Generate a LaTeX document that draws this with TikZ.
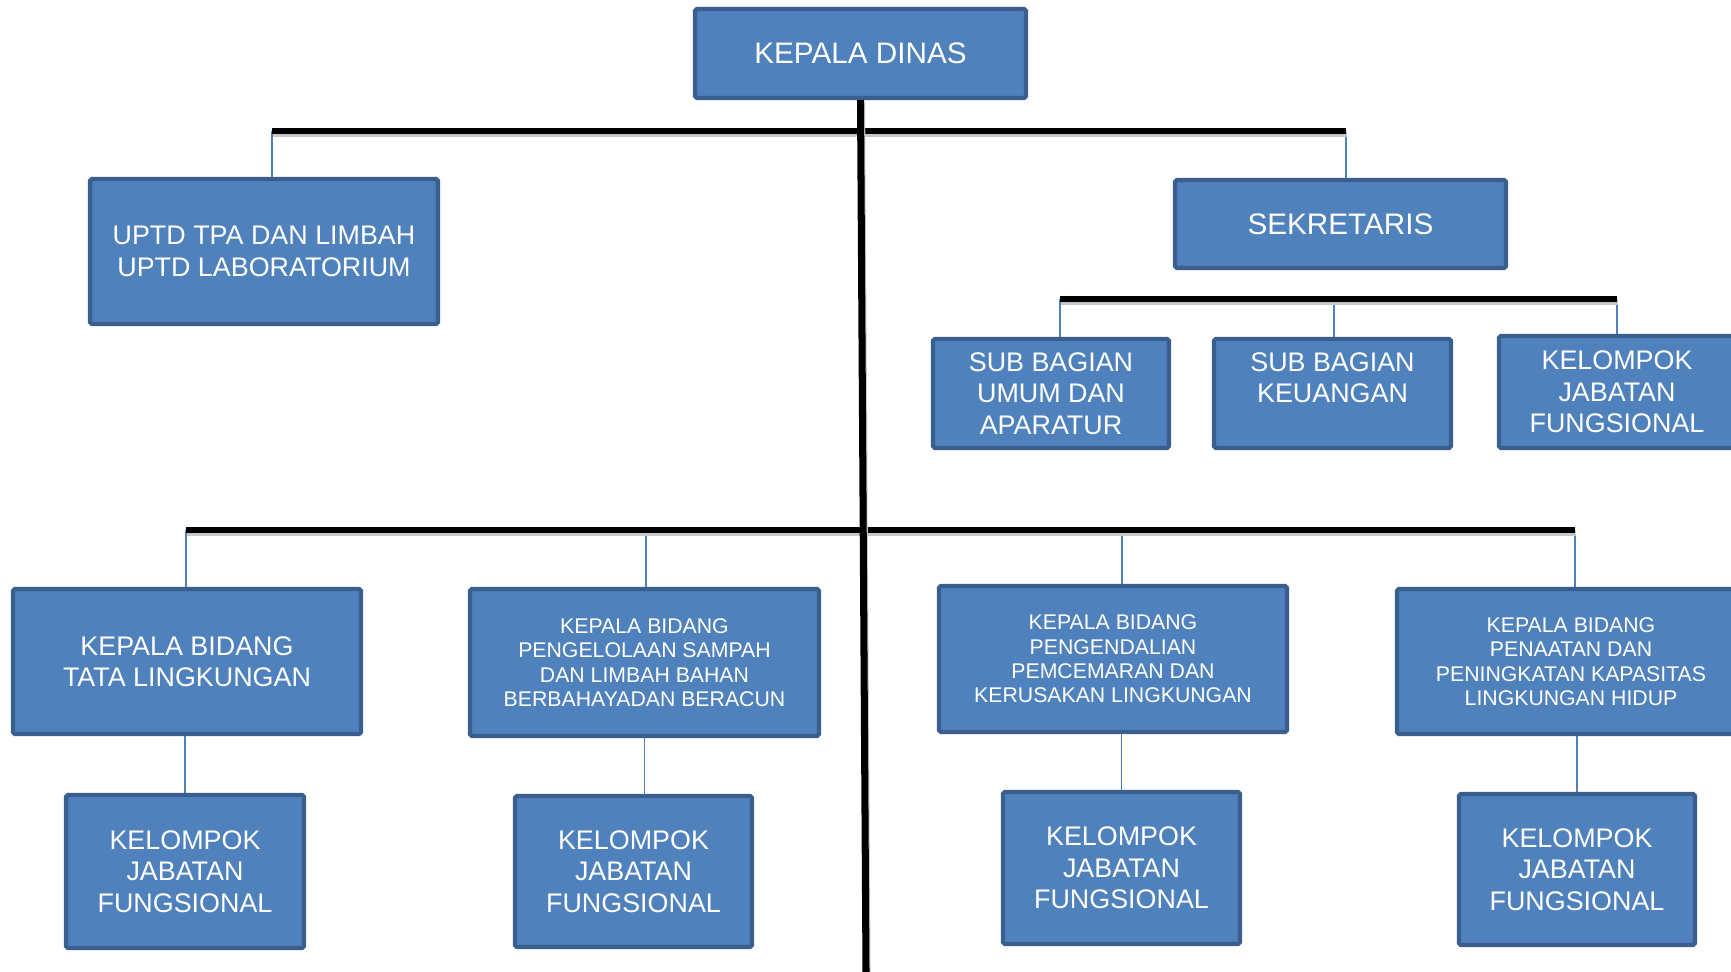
\documentclass[tikz,border=0pt]{standalone}
\usepackage{fontspec}
\setmainfont{Liberation Sans}
\usepackage{xcolor}
\usepackage{tikz}

\definecolor{isibiru}{HTML}{4F81BD}
\definecolor{tepibiru}{HTML}{3A5F8E}

\tikzset{
kotak/.style={draw=tepibiru, fill=isibiru, line width=2.3pt, rounded corners=1pt,
  text=white, align=center, inner sep=0pt, font=\fontsize{15.3}{17.8}\selectfont},
kotakbesar/.style={kotak, font=\fontsize{16.9}{18}\selectfont},
kotakkecil/.style={kotak, font=\fontsize{12.1}{13.9}\selectfont},
ukuran/.style 2 args={minimum width=#1*0.02cm, minimum height=#2*0.02cm},
penghubung/.style={draw=isibiru, line width=0.9pt},
garisbus/.style={line width=3.4pt, black,
  preaction={draw=black!22, line width=3.6pt, transform canvas={xshift=0.8pt, yshift=-1.6pt}}},
tiang/.style={garisbus, line width=4pt},
}

\begin{document}
\begin{tikzpicture}[x=0.02cm, y=-0.02cm]
\useasboundingbox (0,0) rectangle (1731,972);

% kotak-kotak
\node[kotakbesar, ukuran={331}{89}] (kadis) at (860.5,53.5) {KEPALA DINAS};
\node[kotak, ukuran={348}{145}] (uptd) at (264,251.5) {UPTD TPA DAN LIMBAH\\UPTD LABORATORIUM};
\node[kotakbesar, ukuran={331}{88}] (sekre) at (1340.5,224) {SEKRETARIS};

\node[kotak, ukuran={236}{109}] (umum) at (1051,393.5) {SUB BAGIAN\\UMUM DAN\\APARATUR};
\node[kotak, ukuran={237}{109}] (keu) at (1332.5,393.5) {SUB BAGIAN\\KEUANGAN\\~};
\node[kotak, ukuran={236}{112}] (kjf0) at (1617,392) {KELOMPOK\\JABATAN\\FUNGSIONAL};

\node[kotak, ukuran={348}{145}] (bid1) at (187,661.5) {KEPALA BIDANG\\TATA LINGKUNGAN};
\node[kotakkecil, ukuran={349}{147}] (bid2) at (644.5,662.5) {KEPALA BIDANG\\PENGELOLAAN SAMPAH\\DAN LIMBAH BAHAN\\BERBAHAYADAN BERACUN};
\node[kotakkecil, ukuran={348}{146}] (bid3) at (1113,659) {KEPALA BIDANG\\PENGENDALIAN\\PEMCEMARAN DAN\\KERUSAKAN LINGKUNGAN};
\node[kotakkecil, ukuran={348}{145}] (bid4) at (1571,661.5) {KEPALA BIDANG\\PENAATAN DAN\\PENINGKATAN KAPASITAS\\LINGKUNGAN HIDUP};

\node[kotak, ukuran={238}{153}] (kjf1) at (185,871.5) {KELOMPOK\\JABATAN\\FUNGSIONAL};
\node[kotak, ukuran={237}{151}] (kjf2) at (633.5,871.5) {KELOMPOK\\JABATAN\\FUNGSIONAL};
\node[kotak, ukuran={237}{152}] (kjf3) at (1121.5,868) {KELOMPOK\\JABATAN\\FUNGSIONAL};
\node[kotak, ukuran={236}{151}] (kjf4) at (1577,869.5) {KELOMPOK\\JABATAN\\FUNGSIONAL};

% titik cabang pada garis bus
\coordinate (a1) at (272,131);
\coordinate (a2) at (1346,131);
\coordinate (s1) at (1060,299);
\coordinate (s2) at (1334,299);
\coordinate (s3) at (1617,299);
\coordinate (b1) at (186,530);
\coordinate (b2) at (646,530);
\coordinate (b3) at (1122,530);
\coordinate (b4) at (1575,530);
\coordinate (bawah) at (866,972);

% garis penghubung tipis
\draw[penghubung] (a1) -- (a1 |- uptd.north);
\draw[penghubung] (a2) -- (a2 |- sekre.north);
\draw[penghubung] (s1) -- (s1 |- umum.north);
\draw[penghubung] (s2) -- (s2 |- keu.north);
\draw[penghubung] (s3) -- (s3 |- kjf0.north);
\draw[penghubung] (b1) -- (b1 |- bid1.north);
\draw[penghubung] (b2) -- (b2 |- bid2.north);
\draw[penghubung] (b3) -- (b3 |- bid3.north);
\draw[penghubung] (b4) -- (b4 |- bid4.north);
\draw[penghubung] (kjf1.north |- bid1.south) -- (kjf1.north);
\draw[penghubung] (bid2.south) -- (bid2.south |- kjf2.north);
\draw[penghubung] (kjf3.north |- bid3.south) -- (kjf3.north);
\draw[penghubung] (kjf4.north |- bid4.south) -- (kjf4.north);

% garis hitam tebal
\draw[garisbus] (a1) -- (a2);
\draw[garisbus] (s1) -- (s3);
\draw[garisbus] (b1) -- (b4);
\draw[tiang] (kadis.south) -- (bawah);

\end{tikzpicture}
\end{document}
